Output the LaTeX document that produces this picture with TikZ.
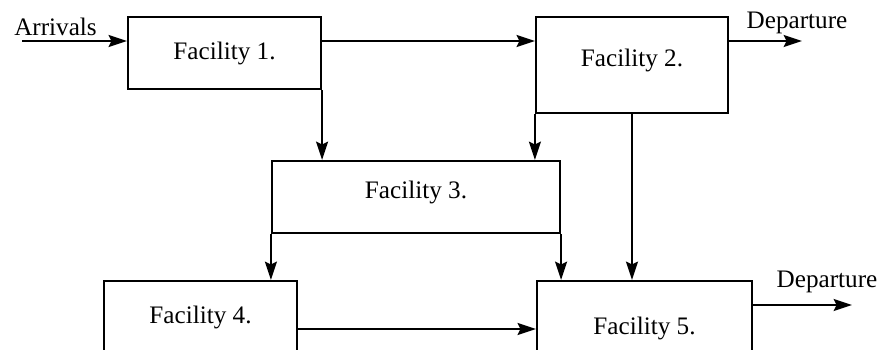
\documentclass[tikz,border=0pt]{standalone}
\usepackage{fontspec}
\setmainfont{Liberation Serif}
\usetikzlibrary{arrows.meta, positioning, calc}

\begin{document}
\begin{tikzpicture}[x=0.025cm, y=-0.025cm,
  font=\fontsize{17.9}{20}\selectfont,
  facility/.style={draw, rectangle, line width=1.5pt, inner sep=0pt},
  flow/.style={line width=1.5pt, -{Stealth[length=13pt,width=8.5pt,inset=2pt]}}]
\useasboundingbox (0,0) rectangle (881,349);
\clip (0,0) rectangle (881,349);
% facilities
\node[facility, minimum width=4.825cm, minimum height=1.8cm] (f1) at (224.5,53) {Facility 1.};
\node[facility, minimum width=4.8cm, minimum height=2.4cm] (f2) at (632,65) {\raisebox{3.5pt}[\height][\depth]{Facility 2.}};
\node[facility, minimum width=7.2cm, minimum height=1.8cm] (f3) at (416,197) {\raisebox{3.5pt}[\height][\depth]{Facility 3.}};
\node[facility, minimum width=4.825cm, minimum height=2.0cm] (f4) at (200.5,321) {\raisebox{2.8pt}[\height][\depth]{Facility 4.}};
\node[facility, minimum width=5.375cm, minimum height=2.35cm] (f5) at (644.5,328) {Facility 5.};
% labels
\node (arrivals) at (55.5,26.4) {Arrivals};
\node (dep2) at (797,22.5) {Departure};
\node (dep5) at (827,282) {Departure};
% flows
\coordinate (top) at (0,41);
\coordinate (low) at (0,329);
\coordinate (in1) at (22,41);
\coordinate (out2) at (802,41);
\coordinate (out5) at (852,305);
\draw[flow] (in1) -- (f1.west |- top);
\draw[flow] (f1.east |- top) -- (f2.west |- top);
\draw[flow] (f2.east |- out2) -- (out2);
\draw[flow] (f1.south east) -- (f1.south east |- f3.north);
\draw[flow] (f2.south west) -- (f2.south west |- f3.north);
\draw[flow] (f2.south) -- (f2.south |- f5.north);
\draw[flow] (f3.south west) -- (f3.south west |- f4.north);
\draw[flow] (f3.south east) -- (f3.south east |- f5.north);
\draw[flow] (f4.east |- low) -- (f5.west |- low);
\draw[flow] (f5.east |- out5) -- (out5);
\end{tikzpicture}
\end{document}
